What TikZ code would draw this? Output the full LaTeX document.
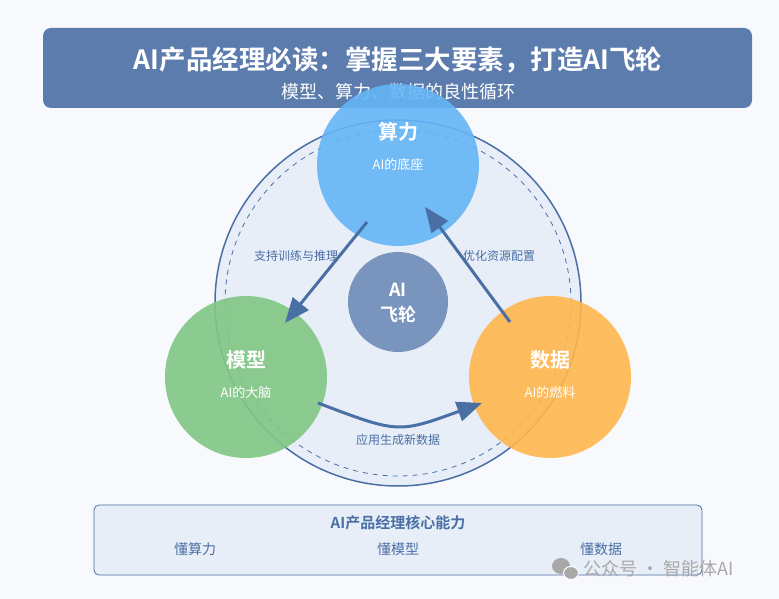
\documentclass[tikz,border=0pt]{standalone}
\usepackage{fontspec}
\setmainfont{Noto Sans CJK SC}[BoldFont={Noto Sans CJK SC Bold}]
\usetikzlibrary{arrows.meta}
\definecolor{bg}{HTML}{F8F9FC}
\definecolor{main}{HTML}{4A6FA5}
\definecolor{pale}{HTML}{E8EEF8}
\definecolor{cblue}{HTML}{64B5F6}
\definecolor{cgreen}{HTML}{81C784}
\definecolor{corange}{HTML}{FFB74D}
\definecolor{wm}{HTML}{A8A8A8}
\tikzset{
  ball/.style={circle, inner sep=0pt, minimum size=162pt, fill opacity=0.9},
  balltitle/.style={text=white, font=\bfseries\fontsize{20}{22}\selectfont},
  ballsub/.style={text=white, font=\fontsize{13}{15}\selectfont},
  flowline/.style={draw=main, line width=3pt},
  flow/.style={flowline, -{Triangle[length=25pt,width=20pt]}},
  lbl/.style={text=main, font=\fontsize{12}{14}\selectfont},
  item/.style={text=main, font=\fontsize{14}{16}\selectfont},
}
\begin{document}
\begin{tikzpicture}[x=1pt,y=-1pt]
\useasboundingbox (0,0) rectangle (779,599);
\fill[bg] (0,0) rectangle (779,599);
% title
\node[draw=none, fill=main, fill opacity=0.9, rounded corners=8pt, minimum width=709pt, minimum height=80pt, inner sep=0] (titlebox) at (397.5,68) {};
\node[text=white, font=\bfseries\fontsize{26.5}{28}\selectfont] (title) at (398,60) {AI产品经理必读：掌握三大要素，打造AI飞轮};
\node[text=white, font=\fontsize{18}{20}\selectfont] (subtitle) at (398,92) {模型、算力、数据的良性循环};
% ring
\node[circle, draw=main, line width=1.5pt, fill=pale, minimum size=366pt, inner sep=0] (ring) at (398,303) {};
\node[circle, draw=main, line width=0.8pt, dash pattern=on 5pt off 5pt, minimum size=346pt, inner sep=0] (dring) at (398,303) {};
% hub
\node[circle, fill=main, fill opacity=0.7, minimum size=100pt, inner sep=0] (hub) at (398,302) {};
\node[text=white, font=\bfseries\fontsize{18}{20}\selectfont] (hubA) at (398,290) {AI};
\node[text=white, font=\bfseries\fontsize{18}{20}\selectfont] (hubB) at (398,315) {飞轮};
% three balls
\node[ball, fill=cblue] (suan) at (398,165) {};
\node[ball, fill=cgreen] (moxing) at (246,377) {};
\node[ball, fill=corange] (shuju) at (550,377) {};
\node[balltitle] (suanT) at (398,132) {算力};
\node[ballsub] (suanS) at (398,165) {AI的底座};
\node[balltitle] (moxingT) at (246,360) {模型};
\node[ballsub] (moxingS) at (246,393) {AI的大脑};
\node[balltitle] (shujuT) at (550,360) {数据};
\node[ballsub] (shujuS) at (550,393) {AI的燃料};
% arrows
\coordinate (a1s) at (367,222);
\coordinate (a1e) at (285,323);
\coordinate (a2s) at (510,322);
\coordinate (a2e) at (425,207);
\coordinate (a3s) at (318,403);
\coordinate (a3b) at (458.5,411.5);
\coordinate (a3e) at (482,403);
\draw[flow] (a1s) -- (a1e);
\draw[flow] (a2s) -- (a2e);
\draw[flowline] (a3s) .. controls (398,433.4) .. (a3b);
\draw[flow] (a3b) -- (a3e);
\node[lbl] (l1) at (296,256) {支持训练与推理};
\node[lbl] (l2) at (499,256) {优化资源配置};
\node[lbl] (l3) at (398,440) {应用生成新数据};
% bottom box
\node[draw=main, line width=0.8pt, fill=pale, rounded corners=5pt, minimum width=608pt, minimum height=70pt, inner sep=0] (bottom) at (398,540) {};
\node[text=main, font=\bfseries\fontsize{15}{17}\selectfont] (btitle) at (398,523) {AI产品经理核心能力};
\node[item] (i1) at (195,549) {懂算力};
\node[item] (i2) at (398,549) {懂模型};
\node[item] (i3) at (601,549) {懂数据};
% watermark
\fill[wm] (561,566) ellipse (9pt and 8pt);
\draw[white, line width=1pt, fill=wm] (571,573) ellipse (7.5pt and 6.5pt);
\node[text=wm, font=\fontsize{18}{20}\selectfont, anchor=west] (wmtxt) at (580,569) {公众号 · 智能体AI};
\end{tikzpicture}
\end{document}
